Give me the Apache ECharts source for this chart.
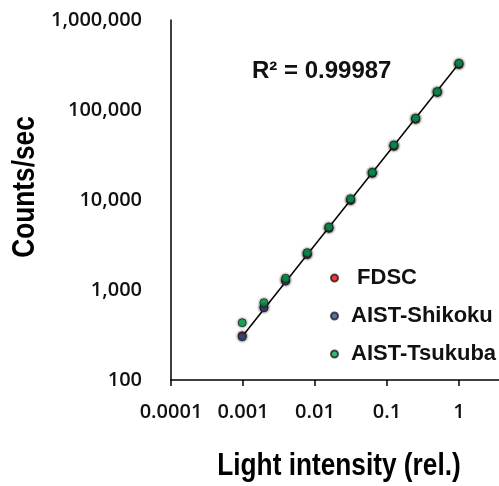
<!DOCTYPE html>
<html><head><meta charset="utf-8">
<script src="https://cdn.jsdelivr.net/npm/echarts@6/dist/echarts.min.js"></script>
<style>html,body{margin:0;padding:0;background:#fff}#c{width:499px;height:486px}</style>
</head><body><div id="c"></div>
<script>
const lightIntensity = [1, 0.5, 0.25, 0.125, 0.0625, 0.03125, 0.015625, 0.0078125, 0.00390625, 0.001953125, 0.0009765625];
const fdscCounts    = [320000, 157000, 79000, 39500, 19800, 9900, 4850, 2480, 1260, 640, 310];
const shikokuCounts = [325000, 158000, 80000, 40000, 20000, 10000, 4900, 2500, 1270, 635, 302];
const tsukubaCounts = [330000, 160000, 81000, 40800, 20300, 10300, 5000, 2600, 1350, 723, 433];
const trendX = [0.0009765625, 1];
const trendY = [305, 328000];
const xTickValues = [0.0001, 0.001, 0.01, 0.1, 1];
const yTickValues = [100, 1000, 10000, 100000, 1000000];
const seriesNames = ['FDSC', 'AIST-Shikoku', 'AIST-Tsukuba'];
const rSquaredText = 'R\u00B2 = 0.99987';
const xTitle = 'Light intensity (rel.)';
const yTitle = 'Counts/sec';

const pairs = (xs, ys) => xs.map((x, i) => [x, ys[i]]);
const markerStyle = (color) => ({
  color: color, borderColor: '#222', borderWidth: 1,
  shadowBlur: 3, shadowColor: 'rgba(0,0,0,0.55)'
});
const titleFont = 'bold 32px "Liberation Sans", Arial, sans-serif';

const chart = echarts.init(document.getElementById('c'), null, {renderer: 'canvas'});
chart.setOption({
  animation: false,
  backgroundColor: '#fff',
  grid: {left: 171, top: 20, right: 0, height: 360, containLabel: false},
  xAxis: {
    type: 'log', logBase: 10, min: 0.0001, max: 3.6,
    axisLine: {show: true, lineStyle: {color: '#000', width: 1.5}},
    axisTick: {show: true, length: 6, customValues: xTickValues, lineStyle: {color: '#000', width: 1.5}},
    splitLine: {show: false},
    axisLabel: {
      customValues: xTickValues,
      margin: 22, color: '#111', fontFamily: 'Open Sans', fontWeight: 600, fontSize: 20,
      formatter: v => String(Number(Number(v).toPrecision(6)))
    }
  },
  yAxis: {
    type: 'log', logBase: 10, min: 100, max: 1000000,
    axisLine: {show: true, lineStyle: {color: '#000', width: 1.5}},
    axisTick: {show: false},
    splitLine: {show: false},
    axisLabel: {
      customValues: yTickValues,
      margin: 29, color: '#111', fontFamily: 'Open Sans', fontWeight: 600, fontSize: 20,
      formatter: v => Math.round(Number(v)).toLocaleString('en-US')
    }
  },
  legend: {
    data: seriesNames, orient: 'vertical', left: 325, top: 262,
    icon: 'circle', itemWidth: 7, itemHeight: 7, itemGap: 16,
    formatter: n => n === 'FDSC' ? ' FDSC' : n,
    textStyle: {fontFamily: '"Liberation Sans", Arial, sans-serif', fontWeight: 'bold', fontSize: 22, lineHeight: 22, color: '#111', padding: [0, 0, 0, 8]}
  },
  graphic: [
    {type: 'text', left: 252, top: 59,
     style: {text: rSquaredText, font: 'bold 24px "Liberation Sans", Arial, sans-serif', fill: '#111'}},
    {type: 'text', x: 339, y: 466, scaleX: 0.82,
     style: {text: xTitle, font: titleFont, fill: '#000', textAlign: 'center', textVerticalAlign: 'middle'}},
    {type: 'text', x: 25, y: 187, rotation: Math.PI / 2, scaleX: 0.82,
     style: {text: yTitle, font: titleFont, fill: '#000', textAlign: 'center', textVerticalAlign: 'middle'}}
  ],
  series: [
    {name: 'trend', type: 'line', data: pairs(trendX, trendY), symbol: 'none',
     lineStyle: {color: '#000', width: 1.5}, z: 1, silent: true},
    {name: seriesNames[0], type: 'scatter', data: pairs(lightIntensity, fdscCounts), symbol: 'circle', symbolSize: 8, itemStyle: markerStyle('#FF0000'), z: 2},
    {name: seriesNames[1], type: 'scatter', data: pairs(lightIntensity, shikokuCounts), symbol: 'circle', symbolSize: 8, itemStyle: markerStyle('#2F4F8A'), z: 3},
    {name: seriesNames[2], type: 'scatter', data: pairs(lightIntensity, tsukubaCounts), symbol: 'circle', symbolSize: 8, itemStyle: markerStyle('#00A84F'), z: 4}
  ]
});
</script></body></html>
